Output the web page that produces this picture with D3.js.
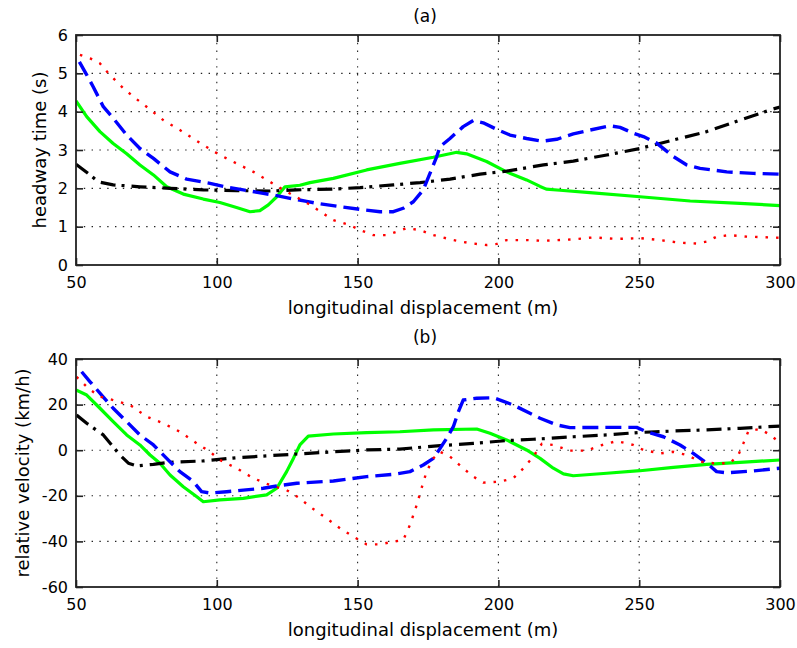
<!DOCTYPE html>
<html>
<head>
<meta charset="utf-8">
<script src="https://cdn.jsdelivr.net/npm/d3@7"></script>
<style>
  html, body { margin: 0; padding: 0; background: #fff; }
  svg { display: block; }
  text { font-family: "DejaVu Sans", sans-serif; fill: #000; }
</style>
</head>
<body>
<svg id="chart" width="797" height="648"></svg>
<script>
// ---------- data ----------
const xTicks = [50, 100, 150, 200, 250, 300];
const headwayTicks = [0, 1, 2, 3, 4, 5, 6];
const velocityTicks = [-60, -40, -20, 0, 20, 40];

// (a) headway time (s) vs longitudinal displacement (m)
const headwayRed = [[51.4,5.48],[55,5.39],[58.5,5.26],[62,4.96],[66.8,4.61],[70.4,4.39],[75.7,4.09],[81,3.78],[86.9,3.52],[95.2,3.13],[101.1,2.87],[107,2.65],[113,2.43],[118.9,2.17],[123.6,1.96],[129.5,1.72],[133.1,1.57],[141.4,1.17],[147.3,1.04],[150.9,0.91],[155.6,0.78],[160.3,0.78],[163.9,0.87],[167.4,0.96],[172.2,0.91],[176.9,0.78],[184,0.65],[189.9,0.57],[195.8,0.52],[199.4,0.55],[202.9,0.65],[210,0.65],[215.9,0.63],[226.6,0.67],[233.7,0.72],[242,0.68],[250.3,0.70],[257.4,0.65],[264.5,0.58],[270.4,0.56],[274,0.61],[277.5,0.74],[282.2,0.78],[288.2,0.74],[300,0.71]];
const headwayBlue = [[51.2,5.30],[53.2,5.04],[56.1,4.65],[59.7,4.13],[63.2,3.83],[68,3.39],[72.7,3.04],[77.5,2.78],[83.4,2.43],[89.3,2.24],[97.6,2.13],[103.5,2.03],[109.4,1.96],[116.5,1.87],[121.3,1.81],[126,1.74],[131.9,1.66],[135.5,1.61],[143.8,1.52],[150.9,1.45],[158,1.39],[162.7,1.39],[166.2,1.48],[169.8,1.65],[173.3,1.96],[175.7,2.39],[178.1,2.83],[179.3,3.09],[182.8,3.30],[187.5,3.61],[191.1,3.77],[194.6,3.71],[199.4,3.54],[204.1,3.39],[210,3.30],[215.5,3.23],[220.7,3.28],[226.6,3.42],[232.5,3.52],[239.6,3.63],[243.2,3.59],[247.9,3.44],[251.5,3.35],[256.2,3.18],[262.1,2.83],[266.9,2.61],[271.6,2.52],[281.1,2.43],[290.5,2.39],[300,2.37]];
const headwayGreen = [[50,4.28],[53.8,3.87],[58.5,3.48],[63.2,3.17],[68,2.90],[72.7,2.61],[77.5,2.35],[82.2,2.04],[88.1,1.85],[95.2,1.72],[101.1,1.63],[107,1.50],[111.8,1.39],[115.3,1.42],[118.3,1.57],[121.3,1.78],[124.2,2.04],[129.5,2.08],[133.1,2.15],[141.4,2.26],[153.2,2.48],[165,2.65],[176.9,2.81],[185.2,2.94],[188.7,2.90],[195.8,2.70],[202.9,2.43],[210,2.22],[214.8,2.05],[217,1.98],[221.9,1.95],[232.5,1.89],[250.3,1.78],[268.1,1.67],[285.8,1.61],[300,1.55]];
const headwayBlack = [[50,2.63],[55,2.35],[57.9,2.17],[63.2,2.09],[72.7,2.04],[83.4,2.00],[95.2,1.96],[107,1.94],[118.9,1.93],[128.4,1.96],[141.4,1.98],[150.9,2.02],[162.7,2.09],[172.2,2.15],[182.8,2.24],[193.5,2.37],[202.9,2.45],[216,2.61],[226.6,2.71],[238.5,2.87],[250.3,3.04],[262.1,3.26],[274,3.48],[285.8,3.78],[297.6,4.07],[300,4.12]];

// (b) relative velocity (km/h) vs longitudinal displacement (m)
const velocityRed = [[50.2,32.2],[54.4,27.1],[58.5,23.5],[63.2,22],[69.2,19.8],[75.1,14.7],[81,11.8],[86.9,8.1],[92.9,3.0],[97.6,-0.7],[101.1,-4.3],[107,-7.9],[113,-12.3],[118.9,-15.3],[124.8,-17.5],[129.5,-21.1],[133.1,-24.8],[139,-29.9],[143.8,-34.3],[148.5,-37.9],[153.2,-41.3],[158,-41.3],[162.7,-40.1],[166.2,-39.4],[168.6,-32.8],[171,-24],[172.7,-16.7],[174.5,-9.4],[176.9,-3.6],[179.3,-0.7],[182.8,-2.8],[187.5,-7.9],[191.1,-11.6],[194.6,-14.2],[200.6,-13.8],[205.3,-12.3],[208.9,-7.9],[212.4,-2.8],[215.4,2.8],[219.5,2.3],[225.4,-0.2],[231.4,-0.2],[236.1,2.0],[242,4.0],[247.9,2.3],[251.5,0.1],[257.4,-1.4],[262.1,-0.7],[266.9,-2.1],[271.6,-5.0],[276.3,-5.7],[282.2,-5.7],[285.2,-2.1],[287,3.0],[288.8,8.4],[292.9,9.3],[296.5,6.7],[300,3.3]];
const velocityBlue = [[52,34.4],[55,30.0],[59.1,24.2],[63.2,18.4],[68,12.5],[72.7,6.7],[77.5,2.3],[82.2,-3.6],[86.9,-9.4],[91.7,-13.8],[94.6,-18.2],[97.6,-18.8],[103.5,-18.2],[109.4,-17.5],[116.5,-16.7],[121.3,-15.7],[128.4,-14.5],[141.4,-13.5],[153.2,-11.6],[162.7,-10.6],[168.6,-9.4],[173.3,-6.5],[176.9,-3.6],[179.3,0.8],[181.6,5.2],[184,10.3],[185.8,16.9],[187.5,22],[192.3,22.8],[198.2,23.0],[200.6,22],[205.3,19.8],[211.2,16.2],[214.8,14],[220.7,11.1],[225.4,9.9],[238.5,10.0],[249.1,10.0],[252.6,8.1],[258.6,5.9],[264.5,2.3],[269.2,-1.4],[274,-5.7],[277.5,-9.4],[281.1,-9.9],[290.5,-9.1],[300,-7.9]];
const velocityGreen = [[50,26.4],[53.8,24.2],[58.5,18.4],[63.2,12.5],[68,6.7],[72.7,2.3],[76.3,-2.1],[79.8,-5.7],[83.4,-10.9],[88.1,-16.0],[92.9,-20.4],[95.2,-22.6],[101.1,-21.8],[109.4,-21.1],[117.7,-19.6],[121.3,-16.7],[124.8,-9.4],[127.2,-3.6],[129.5,2.3],[132.5,6.2],[141.4,7.1],[153.2,7.7],[165,8.1],[176.9,8.9],[192.3,9.3],[197,7.4],[202.9,4.5],[210,0.1],[214.8,-3.6],[219.5,-7.9],[223.1,-10.4],[226.6,-11.2],[238.5,-10.1],[250.3,-9.0],[262.1,-7.5],[274,-6.2],[285.8,-5.3],[300,-4.3]];
const velocityBlack = [[50.2,15.4],[53.8,11.8],[59.7,6.7],[63.2,1.5],[65.6,-2.1],[68.6,-5.7],[71.6,-6.9],[77.5,-6.2],[83.4,-5.3],[95.2,-4.7],[107,-3.3],[118.9,-2.4],[130.7,-1.5],[141.4,-0.7],[153.2,0.1],[165,0.5],[179.3,2.0],[191.1,3.0],[202.9,4.2],[212.4,4.8],[226.6,5.9],[238.5,6.7],[250.3,7.8],[262.1,8.4],[274,8.9],[285.8,9.6],[300,10.6]];

// ---------- styles ----------
const styles = {
  green: { color: "#00ff00", width: 3.2, dash: null },
  black: { color: "#000000", width: 3.2, dash: "15,6,3,7" },
  blue:  { color: "#0000ff", width: 3.4, dash: "16,7" },
  red:   { color: "#ff0000", width: 2.4, dash: "2.5,8" }
};

const svg = d3.select("#chart");
const X0 = 76, X1 = 780;
const plainFmt = d => String(d); // ASCII hyphen-minus, integers

function panel(cfg) {
  const x = d3.scaleLinear().domain([50, 300]).range([X0, X1]);
  const y = d3.scaleLinear().domain(cfg.domain).range([cfg.bottom, cfg.top]);
  const g = svg.append("g");
  const clipId = "clip-" + cfg.id;
  svg.append("clipPath").attr("id", clipId).append("rect")
    .attr("x", X0).attr("y", cfg.top).attr("width", X1 - X0).attr("height", cfg.bottom - cfg.top);

  // grid
  const grid = g.append("g").attr("stroke", "#222").attr("stroke-width", 1.1).attr("stroke-dasharray", "1.4,6.4");
  grid.selectAll(".vg").data(xTicks.slice(1, -1)).enter().append("line")
    .attr("x1", d => x(d)).attr("x2", d => x(d)).attr("y1", cfg.top).attr("y2", cfg.bottom);
  grid.selectAll(".hg").data(cfg.ticks.slice(1, -1)).enter().append("line")
    .attr("x1", X0).attr("x2", X1).attr("y1", d => y(d)).attr("y2", d => y(d));

  // series
  const line = d3.line().x(d => x(d[0])).y(d => y(d[1]));
  const lines = g.append("g").attr("clip-path", `url(#${clipId})`);
  cfg.series.forEach(s => {
    const st = styles[s.style];
    lines.append("path").datum(s.data)
      .attr("fill", "none")
      .attr("stroke", st.color)
      .attr("stroke-width", st.width)
      .attr("stroke-linejoin", "round")
      .attr("stroke-dasharray", st.dash)
      .attr("d", line);
  });

  // axes (ticks inward)
  const axB = g.append("g").attr("transform", `translate(0,${cfg.bottom})`)
    .call(d3.axisBottom(x).tickValues(xTicks).tickFormat(plainFmt).tickSize(-7).tickSizeOuter(0).tickPadding(12));
  const axT = g.append("g").attr("transform", `translate(0,${cfg.top})`)
    .call(d3.axisTop(x).tickValues(xTicks).tickSize(-7).tickSizeOuter(0).tickFormat(""));
  const axL = g.append("g").attr("transform", `translate(${X0},0)`)
    .call(d3.axisLeft(y).tickValues(cfg.ticks).tickFormat(plainFmt).tickSize(-7).tickSizeOuter(0).tickPadding(8));
  const axR = g.append("g").attr("transform", `translate(${X1},0)`)
    .call(d3.axisRight(y).tickValues(cfg.ticks).tickSize(-7).tickSizeOuter(0).tickFormat(""));
  [axB, axT, axL, axR].forEach(a => {
    a.select(".domain").remove();
    a.selectAll(".tick line").attr("stroke", "#222").attr("stroke-width", 1.6);
    a.selectAll(".tick text").style("font-family", '"DejaVu Sans", sans-serif').style("font-size", "16px").attr("fill", "#000");
  });

  // frame
  g.append("rect").attr("x", X0).attr("y", cfg.top).attr("width", X1 - X0).attr("height", cfg.bottom - cfg.top)
    .attr("fill", "none").attr("stroke", "#222").attr("stroke-width", 1.8);

  // labels
  g.append("text").attr("x", 425).attr("y", cfg.titleY).attr("text-anchor", "middle")
    .style("font-size", "17px").text(cfg.title);
  g.append("text").attr("x", 423).attr("y", cfg.bottom + 49).attr("text-anchor", "middle")
    .style("font-size", "18px").text("longitudinal displacement (m)");
  g.append("text").attr("transform", `translate(${cfg.ylabelX},${(cfg.top + cfg.bottom) / 2}) rotate(-90)`)
    .attr("text-anchor", "middle").style("font-size", "18px").text(cfg.ylabel);
}

panel({
  id: "a", top: 35, bottom: 265, domain: [0, 6], ticks: headwayTicks,
  title: "(a)", titleY: 22, ylabel: "headway time (s)", ylabelX: 46,
  series: [
    { style: "green", data: headwayGreen },
    { style: "black", data: headwayBlack },
    { style: "blue", data: headwayBlue },
    { style: "red", data: headwayRed }
  ]
});

panel({
  id: "b", top: 359, bottom: 587, domain: [-60, 40], ticks: velocityTicks,
  title: "(b)", titleY: 343, ylabel: "relative velocity (km/h)", ylabelX: 29,
  series: [
    { style: "green", data: velocityGreen },
    { style: "black", data: velocityBlack },
    { style: "blue", data: velocityBlue },
    { style: "red", data: velocityRed }
  ]
});
</script>
</body>
</html>
